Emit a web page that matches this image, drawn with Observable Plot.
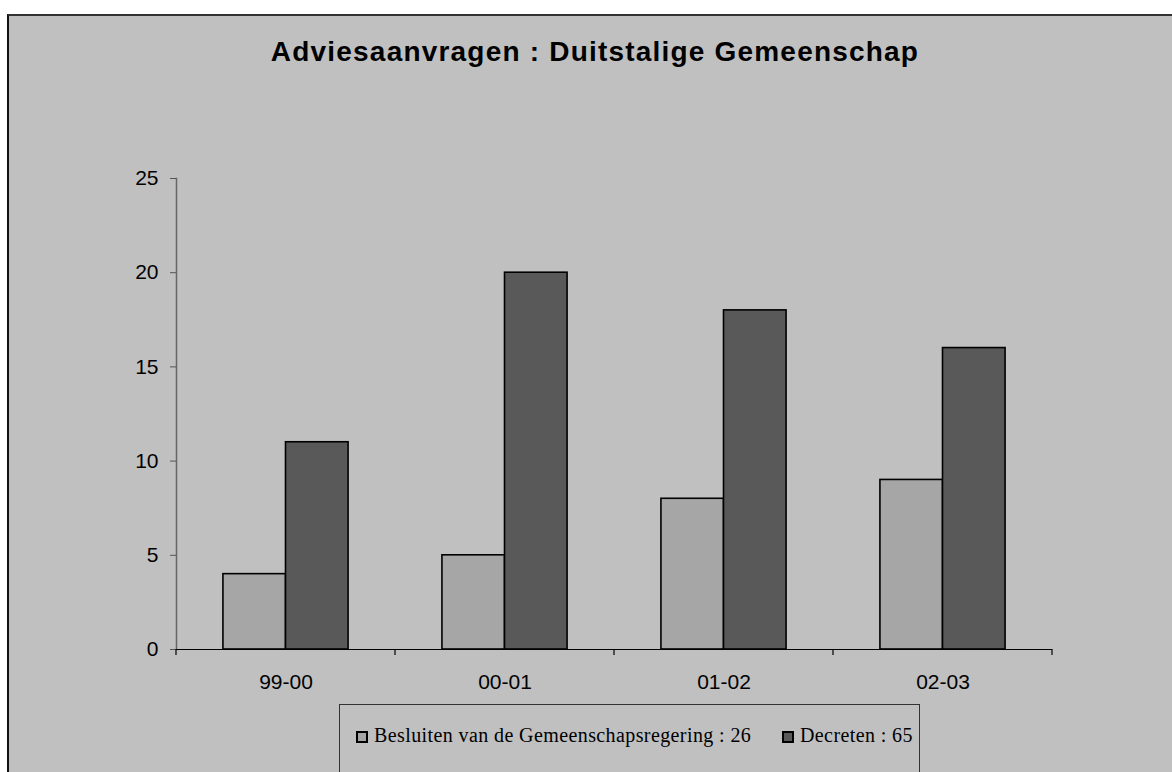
<!DOCTYPE html>
<html>
<head>
<meta charset="utf-8">
<script src="https://cdn.jsdelivr.net/npm/d3@7"></script>
<script src="https://cdn.jsdelivr.net/npm/@observablehq/plot@0.6"></script>
<style>
  html, body { margin: 0; padding: 0; background: #ffffff; overflow: hidden; }
  #wrap { position: relative; width: 1172px; height: 772px; overflow: hidden; }
  #bg { position: absolute; left: 7px; top: 14px; width: 1220px; height: 820px;
        background: #c0c0c0; border-left: 2px solid #111; border-top: 2px solid #333; }
  #chart { position: absolute; left: 0; top: 0; }
  #title { position: absolute; left: 0; width: 1190px; top: 38px; text-align: center;
           font: bold 28px "Liberation Sans", Arial, sans-serif; line-height: 28px;
           letter-spacing: 1.2px; color: #000; white-space: nowrap; }
  #legend { position: absolute; left: 339px; top: 704px; width: 581px; height: 120px;
            border: 1px solid #333; box-sizing: border-box; }
  .sw { position: absolute; width: 12px; height: 12px; border: 2px solid #000; box-sizing: border-box; }
  .lt { position: absolute; font: 20px "Liberation Serif", "Times New Roman", serif;
        line-height: 20px; letter-spacing: 0.4px; color: #000; white-space: nowrap; }
</style>
</head>
<body>
<div id="wrap">
  <div id="bg"></div>
  <div id="title"></div>
  <div id="chart"></div>
  <div id="legendHost"></div>
</div>
<script>
// ---- data ----
const title = "Adviesaanvragen : Duitstalige Gemeenschap";
const periods = ["99-00", "00-01", "01-02", "02-03"];
const seriesNames = ["Besluiten van de Gemeenschapsregering", "Decreten"];
const besluiten = [4, 5, 8, 9];
const decreten = [11, 20, 18, 16];
const yTicks = [0, 5, 10, 15, 20, 25];

const seriesValues = [besluiten, decreten];
const seriesColors = ["#a6a6a6", "#595959"];

const rows = [];
periods.forEach((p, i) => {
  seriesNames.forEach((s, j) => rows.push({period: p, series: s, value: seriesValues[j][i]}));
});

document.getElementById("title").textContent = title;

const chart = Plot.plot({
  width: 1172,
  height: 772,
  marginLeft: 175,
  marginRight: 120,
  marginTop: 178,
  marginBottom: 123,
  style: {background: "transparent", fontFamily: "'Liberation Sans', Arial, sans-serif", fontSize: "21px", color: "#000"},
  fx: {domain: periods, padding: 0, label: null},
  x: {domain: seriesNames, paddingInner: 0, paddingOuter: 0.75, axis: null, round: false},
  y: {domain: [0, 25], label: null},
  color: {domain: seriesNames, range: seriesColors},
  marks: [
    Plot.frame({anchor: "left", stroke: "#666", strokeWidth: 1.5, facetAnchor: "left"}),
    Plot.barY(rows, {fx: "period", x: "series", y: "value", fill: "series", stroke: "#000", strokeWidth: 1.6}),
    Plot.ruleY([0], {stroke: "#000", strokeWidth: 1.2}),
    Plot.axisY({ticks: yTicks, tickSize: 6, tickPadding: 12, fontSize: 21, stroke: "#555", label: null}),
    Plot.axisFx({anchor: "bottom", tickSize: 0, tickPadding: 25, fontSize: 21, label: null})
  ]
});
document.getElementById("chart").appendChild(chart);

// category boundary ticks (Excel style) from the library's fx and y scales
const fx = chart.scale("fx");
const ys = chart.scale("y");
const y0 = ys.apply(0);
const bounds = periods.map(p => fx.apply(p));
bounds.push(fx.apply(periods[periods.length - 1]) + fx.bandwidth);
const svg = d3.select(chart);
svg.append("g").selectAll("line").data(bounds).join("line")
  .attr("x1", d => d).attr("x2", d => d)
  .attr("y1", y0).attr("y2", y0 + 6)
  .attr("stroke", "#000").attr("stroke-width", 1.2);

// legend
const host = document.getElementById("wrap");
const legend = document.createElement("div");
legend.id = "legend";
host.appendChild(legend);
const legendItems = [
  {label: seriesNames[0] + " : " + d3.sum(besluiten), color: seriesColors[0], sx: 16, tx: 34},
  {label: seriesNames[1] + " : " + d3.sum(decreten), color: seriesColors[1], sx: 442, tx: 460}
];
legendItems.forEach(it => {
  const sw = document.createElement("div");
  sw.className = "sw";
  sw.style.left = it.sx + "px";
  sw.style.top = "26px";
  sw.style.background = it.color;
  legend.appendChild(sw);
  const t = document.createElement("div");
  t.className = "lt";
  t.style.left = it.tx + "px";
  t.style.top = "20px";
  t.textContent = it.label;
  legend.appendChild(t);
});
</script>
</body>
</html>
